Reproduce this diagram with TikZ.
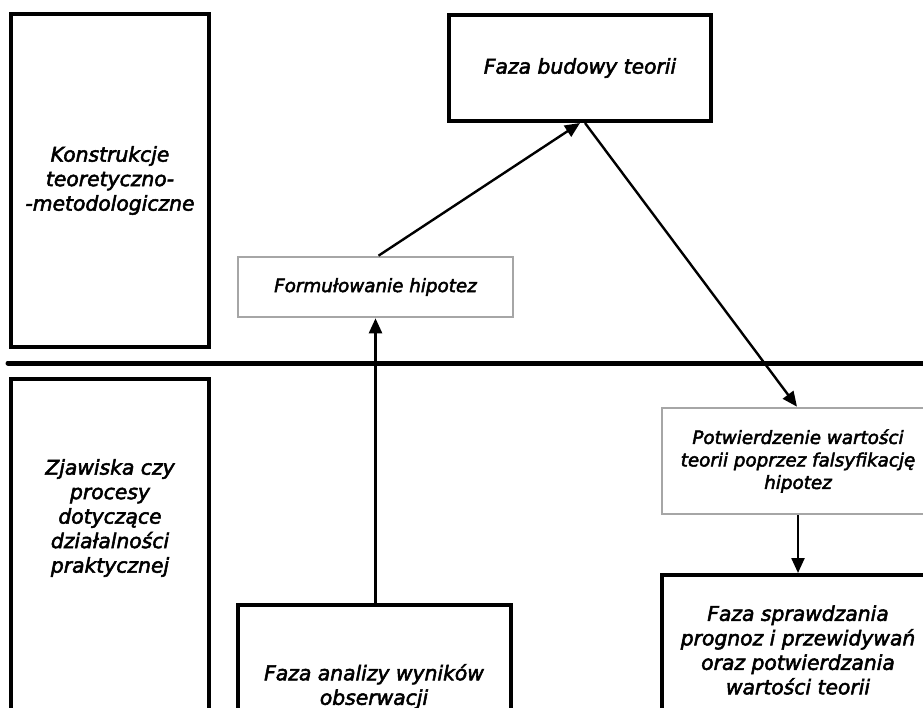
\documentclass[tikz,border=0pt]{standalone}
\usepackage{fontspec}
\setmainfont{DejaVu Sans}[ItalicFeatures={FakeBold=2.6}]
\usetikzlibrary{arrows.meta}
\tikzset{
  x=1pt, y=-1pt,
  bigbox/.style={draw=black, line width=4pt, rectangle, inner sep=0pt, align=center,
    font=\fontsize{20.3}{24.5}\selectfont\itshape},
  graybox/.style={draw=black!35, line width=2.6pt, rectangle, inner sep=0pt, align=center,
    font=\fontsize{18.3}{22.5}\selectfont\itshape},
  bigtext/.style={align=center, inner sep=0pt, font=\fontsize{20.3}{24.5}\selectfont\itshape},
  conn/.style={line width=2.4pt, -{Triangle[length=15pt,width=13pt]}},
}
\begin{document}
\begin{tikzpicture}
\useasboundingbox (0,0) rectangle (923,708);
\clip (0,0) rectangle (923,708);
% separator
\draw[line width=5pt, line cap=round] (8,363) -- (940,363);
% left column
\node[bigbox, minimum width=198pt, minimum height=333pt] (konst) at (110,180.5)
  {Konstrukcje\\teoretyczno-\\-metodologiczne};
\node[bigbox, minimum width=198pt, minimum height=360pt, anchor=north] (zjbox) at (110,377) {};
\node[bigtext] (zjtext) at (110,518) {Zjawiska czy\\procesy\\dotyczące\\działalności\\praktycznej};
% top
\node[bigbox, minimum width=262pt, minimum height=106pt] (budowy) at (580,68) {Faza budowy teorii};
\node[graybox, minimum width=275pt, minimum height=60pt] (form) at (375.5,287) {Formułowanie hipotez};
\node[graybox, minimum width=272pt, minimum height=106pt] (potw) at (798,461)
  {Potwierdzenie wartości\\teorii poprzez falsyfikację\\hipotez};
\node[bigbox, minimum width=272pt, minimum height=150pt, anchor=north] (spr) at (798,573)
  {Faza sprawdzania\\prognoz i przewidywań\\oraz potwierdzania\\wartości teorii};
\node[bigbox, minimum width=273pt, minimum height=163pt, anchor=north] (anal) at (374,603)
  {Faza analizy wyników\\obserwacji};
% connectors
\draw[conn] (anal.north -| form.south) -- (form.south);
\draw[conn] ([xshift=3pt]form.north) -- (budowy.south);
\draw[conn] ([xshift=5pt]budowy.south) -- ([xshift=-1pt]potw.north);
\draw[conn] (potw.south) -- (spr.north);
\end{tikzpicture}
\end{document}
